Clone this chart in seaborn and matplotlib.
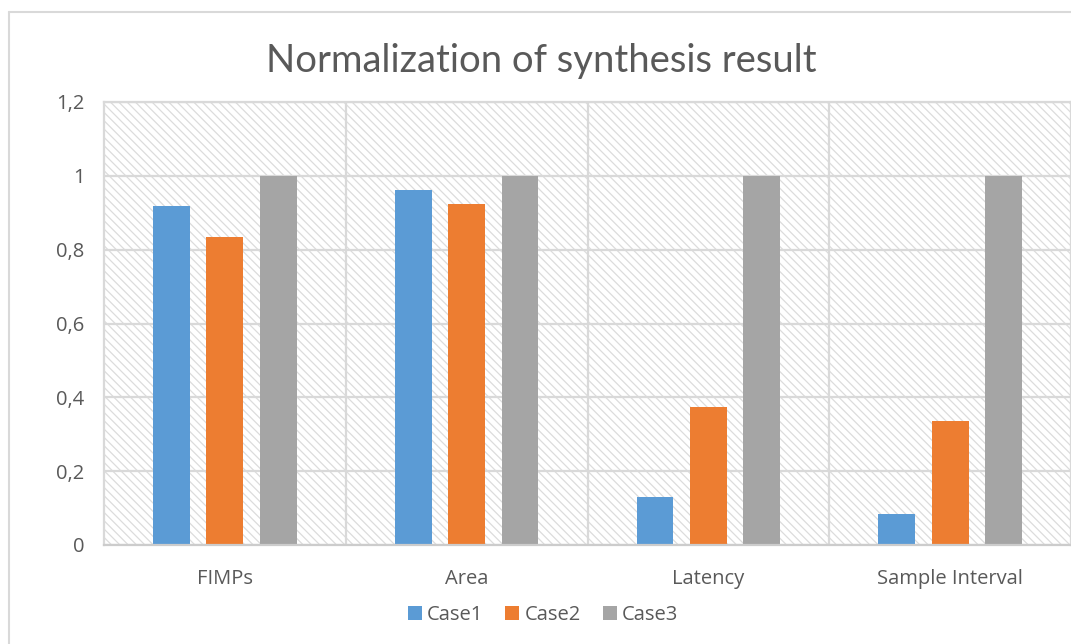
import matplotlib
matplotlib.use("Agg")
import matplotlib.pyplot as plt
import seaborn as sns
import pandas as pd
from matplotlib.patches import Rectangle, Patch
from matplotlib.lines import Line2D

categories = ["FIMPs", "Area", "Latency", "Sample Interval"]
case1 = [0.917, 0.962, 0.130, 0.084]
case2 = [0.833, 0.924, 0.375, 0.335]
case3 = [1.0, 1.0, 1.0, 1.0]
series = ["Case1", "Case2", "Case3"]
colors = ["#5B9BD5", "#ED7D31", "#A5A5A5"]
yticks = [0, 0.2, 0.4, 0.6, 0.8, 1.0, 1.2]
ytick_labels = ["0", "0,2", "0,4", "0,6", "0,8", "1", "1,2"]
title = "Normalization of synthesis result"

rows = []
for s, vals in zip(series, [case1, case2, case3]):
    for c, v in zip(categories, vals):
        rows.append({"cat": c, "series": s, "value": v})
df = pd.DataFrame(rows)

sns.set_theme(style="white")
plt.rcParams["font.family"] = ["Open Sans", "DejaVu Sans"]
plt.rcParams["hatch.color"] = "#dcdcdc"
plt.rcParams["hatch.linewidth"] = 0.9

fig = plt.figure(figsize=(10.71, 6.44), dpi=100)
ax = fig.add_axes([104/1071, 1-545/644, 1 - 104/1071, (545-102)/644])

# hatched background
ax.add_patch(Rectangle((0, 0), 1, 1, transform=ax.transAxes, facecolor="white",
                       edgecolor="#dcdcdc", hatch="\\\\\\\\", linewidth=0, zorder=0))

sns.barplot(data=df, x="cat", y="value", hue="series", hue_order=series,
            palette=colors, width=0.663, gap=0.31, saturation=1, ax=ax,
            legend=False, zorder=3, edgecolor="none")

ax.set_xlim(-0.5, 3.5)
ax.set_ylim(0, 1.2)
ax.set_yticks(yticks)
ax.set_yticklabels(ytick_labels)
ax.set_xticks(range(len(categories)))
ax.set_xticklabels(categories)
ax.set_xticks([0.5, 1.5, 2.5], minor=True)
ax.set_xlabel("")
ax.set_ylabel("")
ax.tick_params(axis="both", which="both", length=0, colors="#595959", labelsize=14.5)
ax.tick_params(axis="x", pad=17)
ax.tick_params(axis="y", pad=14)
for lab in ax.get_xticklabels() + ax.get_yticklabels():
    lab.set_color("#595959")

ax.grid(axis="y", color="#d9d9d9", linewidth=1.6, zorder=1)
ax.grid(axis="x", which="minor", color="#d9d9d9", linewidth=1.6, zorder=1)
ax.grid(axis="x", which="major", visible=False)
ax.set_axisbelow(True)
for side, sp in ax.spines.items():
    sp.set_color("#d9d9d9")
    sp.set_linewidth(1.6)
ax.spines["bottom"].set_color("#cccccc")
ax.spines["bottom"].set_zorder(4)

fig.text(0.505, 1 - 61/644, title, ha="center", va="center", fontsize=27.5,
         color="#595959", family=["Lato", "DejaVu Sans"])

handles = [Patch(facecolor=c, edgecolor="none") for c in colors]
fig.legend(handles, series, loc="center", bbox_to_anchor=(0.507, 1 - 615/644),
           ncol=3, frameon=False, fontsize=14.5, handlelength=0.7, handleheight=0.7,
           handletextpad=0.25, columnspacing=1.1, labelcolor="#595959")

# outer chart border
fig.add_artist(Line2D([9/1071, 9/1071], [0, 1 - 12/644], transform=fig.transFigure,
                      color="#d9d9d9", linewidth=1.5))
fig.add_artist(Line2D([9/1071, 1], [1 - 12/644, 1 - 12/644], transform=fig.transFigure,
                      color="#d9d9d9", linewidth=1.5))

fig.savefig("out.png", dpi=100)
